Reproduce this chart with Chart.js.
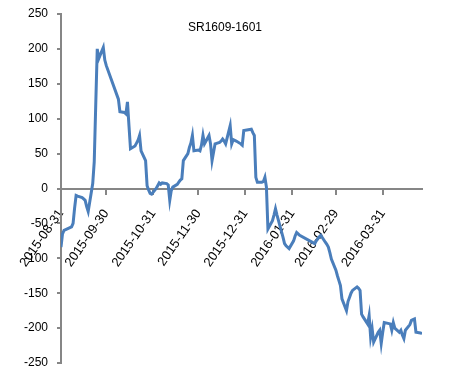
<!DOCTYPE html>
<html>
<head>
    <title>SR1609-1601</title>
    <script src="https://cdn.jsdelivr.net/npm/chart.js@4.4.0/dist/chart.umd.min.js"></script>
    <style>
        body { margin: 0; background: #fff; }
        #wrap { width: 475px; height: 375px; }
    </style>
</head>
<body>
    <div id="wrap"><canvas id="spreadChart"></canvas></div>
    <script>
        const chartTitle = 'SR1609-1601';

        const dates = [
            '2015-08-31', '2015-09-01', '2015-09-02', '2015-09-07', '2015-09-08', '2015-09-09', '2015-09-10',
            '2015-09-11', '2015-09-14', '2015-09-15', '2015-09-16', '2015-09-17', '2015-09-18', '2015-09-21',
            '2015-09-22', '2015-09-23', '2015-09-24', '2015-09-25', '2015-09-28', '2015-09-29', '2015-09-30',
            '2015-10-08', '2015-10-09', '2015-10-12', '2015-10-13', '2015-10-14', '2015-10-15', '2015-10-16',
            '2015-10-19', '2015-10-20', '2015-10-21', '2015-10-22', '2015-10-23', '2015-10-26', '2015-10-27',
            '2015-10-28', '2015-10-29', '2015-10-30', '2015-11-02', '2015-11-03', '2015-11-04', '2015-11-05',
            '2015-11-06', '2015-11-09', '2015-11-10', '2015-11-11', '2015-11-12', '2015-11-13', '2015-11-16',
            '2015-11-17', '2015-11-18', '2015-11-19', '2015-11-20', '2015-11-23', '2015-11-24', '2015-11-25',
            '2015-11-26', '2015-11-27', '2015-11-30', '2015-12-01', '2015-12-02', '2015-12-03', '2015-12-04',
            '2015-12-07', '2015-12-08', '2015-12-09', '2015-12-10', '2015-12-11', '2015-12-14', '2015-12-15',
            '2015-12-16', '2015-12-17', '2015-12-18', '2015-12-21', '2015-12-22', '2015-12-23', '2015-12-24',
            '2015-12-25', '2015-12-28', '2015-12-29', '2015-12-30', '2016-01-04', '2016-01-05', '2016-01-06',
            '2016-01-07', '2016-01-08', '2016-01-11', '2016-01-12', '2016-01-13', '2016-01-14', '2016-01-15',
            '2016-01-18', '2016-01-19', '2016-01-20', '2016-01-21', '2016-01-22', '2016-01-25', '2016-01-26',
            '2016-01-27', '2016-01-28', '2016-01-29', '2016-02-01', '2016-02-02', '2016-02-03', '2016-02-04',
            '2016-02-05', '2016-02-15', '2016-02-16', '2016-02-17', '2016-02-18', '2016-02-19', '2016-02-22',
            '2016-02-23', '2016-02-24', '2016-02-25', '2016-02-26', '2016-02-29', '2016-03-01', '2016-03-02',
            '2016-03-03', '2016-03-04', '2016-03-07', '2016-03-08', '2016-03-09', '2016-03-10', '2016-03-11',
            '2016-03-14', '2016-03-15', '2016-03-16', '2016-03-17', '2016-03-18', '2016-03-21', '2016-03-22',
            '2016-03-23', '2016-03-24', '2016-03-25', '2016-03-28', '2016-03-29', '2016-03-30', '2016-03-31',
            '2016-04-01', '2016-04-05', '2016-04-06', '2016-04-07', '2016-04-08', '2016-04-11', '2016-04-12',
            '2016-04-13', '2016-04-14', '2016-04-15', '2016-04-18', '2016-04-19', '2016-04-20', '2016-04-21',
            '2016-04-22', '2016-04-25', '2016-04-26'
        ];

        const spread = [
            -84, -65, -60, -55, -50, -28, -10,
            -11, -13, -15, -17, -26, -33, 7,
            38, 120, 200, 186, 202, 184, 176,
            128, 110, 109, 107, 124, 90, 57,
            61, 65, 69, 76, 54, 40, 4,
            -2, -7, -8, 0, 4, 8, 6,
            8, 7, 5, -17, -3, 2, 6,
            9, 12, 14, 40, 50, 59, 65,
            76, 54, 55, 54, 62, 76, 64,
            76, 64, 40, 52, 64, 66, 68,
            71, 68, 64, 90, 64, 70, 69,
            68, 64, 62, 83, 85, 80, 76,
            16, 9, 9, 10, 16, 2, -58,
            -46, -38, -29, -38, -46, -70, -79,
            -82, -84, -86, -75, -68, -63, -65,
            -67, -79, -75, -72, -69, -67, -77,
            -80, -84, -92, -101, -117, -125, -132,
            -139, -158, -175, -162, -156, -150, -146,
            -141, -143, -146, -180, -184, -194, -182,
            -213, -201, -220, -206, -203, -222, -206,
            -192, -194, -203, -192, -200, -206, -203,
            -210, -215, -203, -195, -189, -188, -187,
            -206, -207, -208
        ];

        // month-end tick dates on the x axis
        const tickDates = ['2015-08-31', '2015-09-30', '2015-10-31', '2015-11-30',
            '2015-12-31', '2016-01-31', '2016-02-29', '2016-03-31'];

        const yTicks = [-250, -200, -150, -100, -50, 0, 50, 100, 150, 200, 250];

        const startDay = Date.UTC(2015, 7, 31);
        function dayOf(s) {
            const p = s.split('-');
            return Math.round((Date.UTC(+p[0], +p[1] - 1, +p[2]) - startDay) / 86400000);
        }

        const points = dates.map((d, i) => ({ x: dayOf(d), y: spread[i] }));
        const tickLabel = {};
        tickDates.forEach(d => { tickLabel[dayOf(d)] = d; });

        const fontFamily = "'Liberation Sans', Arial, sans-serif";

        const titlePlugin = {
            id: 'innerTitle',
            afterDraw(chart) {
                const c = chart.ctx;
                c.save();
                c.font = '12px ' + fontFamily;
                c.fillStyle = '#000';
                c.textAlign = 'center';
                c.textBaseline = 'middle';
                c.fillText(chartTitle, 225, 28);
                c.restore();
            }
        };

        const ctx = document.getElementById('spreadChart').getContext('2d');
        const spreadChart = new Chart(ctx, {
            type: 'line',
            data: {
                datasets: [{
                    label: chartTitle,
                    data: points,
                    borderColor: '#4a7ebb',
                    borderWidth: 3,
                    pointRadius: 0,
                    tension: 0,
                    fill: false
                }]
            },
            options: {
                responsive: true,
                maintainAspectRatio: false,
                animation: false,
                layout: { padding: { top: 14, right: 53, bottom: 12, left: 0 } },
                plugins: {
                    legend: { display: false },
                    tooltip: { enabled: false }
                },
                scales: {
                    x: {
                        type: 'linear',
                        position: { y: 0 },
                        min: 0,
                        max: 239,
                        afterBuildTicks: (scale) => {
                            scale.ticks = tickDates.map(d => ({ value: dayOf(d) }));
                        },
                        ticks: {
                            autoSkip: false,
                            minRotation: 55,
                            maxRotation: 55,
                            color: '#000',
                            font: { family: fontFamily, size: 13 },
                            padding: 13,
                            callback: (v) => tickLabel[v] || ''
                        },
                        grid: { drawOnChartArea: false, drawTicks: true, tickLength: 5, color: '#868686', lineWidth: 2 },
                        border: { color: '#868686', width: 2 }
                    },
                    y: {
                        min: -250,
                        max: 250,
                        afterBuildTicks: (scale) => {
                            scale.ticks = yTicks.map(v => ({ value: v }));
                        },
                        afterFit: (scale) => { scale.width = 61; },
                        ticks: { color: '#000', font: { family: fontFamily, size: 12 }, padding: 0 },
                        // long tick slot keeps labels clear of the axis, dash shows only the short mark next to it
                        grid: {
                            drawOnChartArea: false, drawTicks: true, tickLength: 13,
                            tickBorderDash: [0, 9, 4, 100], color: '#868686', lineWidth: 2
                        },
                        border: { color: '#868686', width: 2 }
                    }
                }
            },
            plugins: [titlePlugin]
        });
    </script>
</body>
</html>
